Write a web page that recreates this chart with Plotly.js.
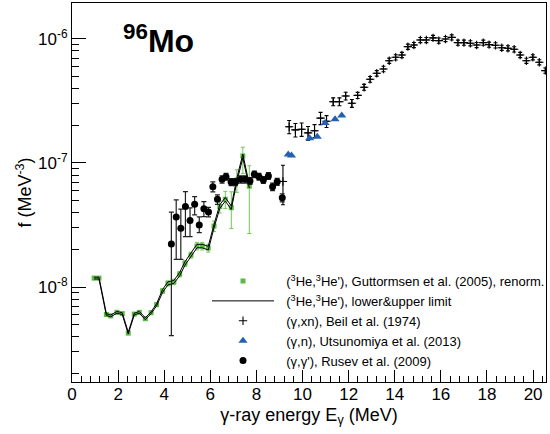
<!DOCTYPE html>
<html>
<head>
<meta charset="utf-8">
<script src="https://cdn.plot.ly/plotly-3.0.1.min.js"></script>
<style>
html,body{margin:0;padding:0;background:#fff;overflow:hidden;}
#chart{width:550px;height:434px;}
</style>
</head>
<body>
<div id="chart"></div>
<script>
// Guttormsen et al. (2005), renorm. (3He,3He')
const energyG = [0.96,1.17,1.49,1.68,1.95,2.18,2.44,2.70,2.92,3.18,3.43,3.67,3.93,4.16,4.42,4.67,4.90,5.16,5.42,5.65,5.91,6.16,6.41,6.65,6.91,7.15,7.41,7.69];
const fG = [1.18e-8,1.18e-8,6.0e-9,5.85e-9,6.25e-9,6.1e-9,4.25e-9,6.05e-9,6.25e-9,5.55e-9,6.2e-9,7.2e-9,9.3e-9,1.07e-8,1.10e-8,1.27e-8,1.55e-8,1.81e-8,2.14e-8,2.14e-8,2.06e-8,3.10e-8,4.45e-8,5.1e-8,4.36e-8,7.3e-8,1.14e-7,6.5e-8];
const fGErrPlus = [3.5e-10,3.5e-10,1.8e-10,1.8e-10,1.9e-10,1.8e-10,1.3e-10,1.8e-10,1.9e-10,1.7e-10,1.9e-10,2.5e-10,4.0e-10,5.0e-10,5.5e-10,6.5e-10,8.5e-10,1.0e-9,1.5e-9,1.5e-9,1.5e-9,3.0e-9,5.0e-9,8.0e-9,1.5e-8,1.5e-8,2.0e-8,3.0e-8];
const fGErrMinus = [3.5e-10,3.5e-10,1.8e-10,1.8e-10,1.9e-10,1.8e-10,1.3e-10,1.8e-10,1.9e-10,1.7e-10,1.9e-10,2.5e-10,4.0e-10,5.0e-10,5.5e-10,6.5e-10,8.5e-10,1.0e-9,1.5e-9,1.5e-9,1.5e-9,3.0e-9,5.0e-9,8.0e-9,1.4e-8,1.5e-8,3.2e-8,3.8e-8];
// lower & upper limit
const fLower = [1.16e-8,1.16e-8,5.9e-9,5.75e-9,6.15e-9,6.0e-9,4.18e-9,5.95e-9,6.15e-9,5.45e-9,6.1e-9,7.05e-9,9.05e-9,1.04e-8,1.07e-8,1.23e-8,1.50e-8,1.75e-8,2.07e-8,2.07e-8,1.99e-8,3.0e-8,4.3e-8,4.93e-8,4.22e-8,7.06e-8,1.10e-7,6.28e-8];
const fUpper = [1.20e-8,1.20e-8,6.1e-9,5.95e-9,6.35e-9,6.2e-9,4.32e-9,6.15e-9,6.35e-9,5.65e-9,6.3e-9,7.35e-9,9.55e-9,1.10e-8,1.13e-8,1.31e-8,1.60e-8,1.87e-8,2.21e-8,2.21e-8,2.13e-8,3.2e-8,4.6e-8,5.27e-8,4.5e-8,7.54e-8,1.18e-7,6.72e-8];
// Beil et al. (1974) (gamma,xn)
const energyB = [9.15,9.42,9.69,9.96,10.24,10.52,10.78,11.04,11.33,11.60,11.87,12.14,12.39,12.67,12.93,13.22,13.51,13.76,14.04,14.31,14.57,14.83,15.11,15.37,15.66,15.91,16.20,16.47,16.74,17.00,17.28,17.55,17.84,18.09,18.37,18.64,18.91,19.18,19.44,19.71,19.99,20.27,20.53];
const fB = [7.1e-8,1.96e-7,1.85e-7,1.87e-7,1.75e-7,1.82e-7,2.3e-7,2.17e-7,3.12e-7,3.12e-7,3.47e-7,3.03e-7,3.51e-7,4.08e-7,4.73e-7,5.29e-7,5.73e-7,6.68e-7,7.12e-7,7.43e-7,8.67e-7,8.94e-7,9.82e-7,9.82e-7,1.02e-6,9.7e-7,1.0e-6,1.03e-6,9.34e-7,9.34e-7,9.23e-7,8.94e-7,9.34e-7,9.0e-7,8.89e-7,8.5e-7,8.41e-7,8.26e-7,7.43e-7,6.68e-7,7.12e-7,6.49e-7,5.56e-7];
const fBErr = [2.5e-8,2.4e-8,2.3e-8,2.3e-8,2.2e-8,2.2e-8,2.6e-8,2.4e-8,2.3e-8,2.3e-8,2.5e-8,2.2e-8,2.0e-8,2.2e-8,2.5e-8,2.7e-8,2.9e-8,3.3e-8,3.5e-8,3.6e-8,4.2e-8,4.3e-8,4.7e-8,4.7e-8,4.9e-8,4.7e-8,4.8e-8,4.9e-8,4.5e-8,4.5e-8,4.4e-8,4.3e-8,4.5e-8,4.3e-8,4.3e-8,4.1e-8,4.0e-8,4.0e-8,3.6e-8,3.2e-8,3.4e-8,3.1e-8,2.7e-8];
const energyBErr = 0.13;
// Utsunomiya et al. (2013) (gamma,n)
const energyU = [9.38,9.52,10.31,10.64,10.98,11.41,11.70];
const fU = [1.17e-7,1.15e-7,1.58e-7,1.63e-7,2.1e-7,2.25e-7,2.41e-7];
// Rusev et al. (2009) (gamma,gamma')
const energyR = [4.31,4.52,4.72,4.92,5.12,5.32,5.52,5.72,5.92,6.11,6.31,6.51,6.68,6.90,7.09,7.32,7.51,7.72,7.91,8.11,8.30,8.52,8.70,8.90,9.12];
const fR = [2.22e-8,3.67e-8,2.97e-8,4.45e-8,3.43e-8,4.65e-8,3.16e-8,4.28e-8,4.03e-8,6.44e-8,5.09e-8,7.39e-8,7.76e-8,7.03e-8,7.03e-8,7.39e-8,7.39e-8,7.16e-8,8.11e-8,7.76e-8,7.30e-8,7.86e-8,6.44e-8,7.06e-8,5.25e-8];
const fRErrPlus = [1.8e-8,1.37e-8,1.27e-8,1.43e-8,0.91e-8,0.7e-8,0.51e-8,0.6e-8,0.35e-8,0.6e-8,0.45e-8,0.5e-8,0.5e-8,0.45e-8,0.45e-8,0.5e-8,0.5e-8,0.45e-8,0.5e-8,0.5e-8,0.45e-8,0.5e-8,0.45e-8,0.45e-8,0.4e-8];
const fRErrMinus = [1.815e-8,2.0e-8,1.3e-8,1.9e-8,0.88e-8,0.84e-8,0.42e-8,0.59e-8,0.35e-8,0.6e-8,0.45e-8,0.5e-8,0.5e-8,0.45e-8,0.45e-8,0.5e-8,0.5e-8,0.45e-8,0.5e-8,0.5e-8,0.45e-8,0.5e-8,0.45e-8,0.45e-8,0.4e-8];

const yTickVals = [1e-8,1e-7,1e-6];
const yTickText = ['10<sup>-8</sup>','10<sup>-7</sup>','10<sup>-6</sup>'];

const FONT = 'Liberation Sans, Arial, Helvetica, sans-serif';
const green = '#5cb946';
const LEAD = '\u00a0\u00a0';

const traces = [
  {
    x: energyG, y: fG, type: 'scatter', mode: 'markers',
    name: LEAD + '(<sup>3</sup>He,<sup>3</sup>He\'), Guttormsen et al. (2005), renorm.',
    marker: {symbol: 'square', size: 5, color: green},
    error_y: {type: 'data', array: fGErrPlus, arrayminus: fGErrMinus, color: '#74c65a', thickness: 1, width: 2}
  },
  {
    x: energyG, y: fLower, type: 'scatter', mode: 'lines',
    name: LEAD + '(<sup>3</sup>He,<sup>3</sup>He\'), lower&upper limit',
    legendgroup: 'lim',
    line: {color: '#000', width: 1}
  },
  {
    x: energyG, y: fUpper, type: 'scatter', mode: 'lines',
    name: 'upper', legendgroup: 'lim', showlegend: false,
    line: {color: '#000', width: 1}
  },
  {
    x: energyB, y: fB, type: 'scatter', mode: 'markers',
    name: LEAD + '(γ,xn), Beil et al. (1974)',
    marker: {symbol: 'cross-thin', size: 6, color: '#000', line: {color: '#000', width: 1.1}},
    error_y: {type: 'data', array: fBErr, color: '#000', thickness: 1.1, width: 2},
    error_x: {type: 'constant', value: energyBErr, color: '#000', thickness: 1.1, width: 0}
  },
  {
    x: energyU, y: fU, type: 'scatter', mode: 'markers',
    name: LEAD + '(γ,n), Utsunomiya et al. (2013)',
    marker: {symbol: 'triangle-up', size: 8, color: '#2360b0'}
  },
  {
    x: energyR, y: fR, type: 'scatter', mode: 'markers',
    name: LEAD + '(γ,γ\'), Rusev et al. (2009)',
    marker: {symbol: 'circle', size: 7, color: '#000'},
    error_y: {type: 'data', array: fRErrPlus, arrayminus: fRErrMinus, color: '#222', thickness: 1.2, width: 2.5}
  }
];

const layout = {
  width: 550, height: 434,
  margin: {l: 72, r: 0, t: 3, b: 52},
  paper_bgcolor: '#fff', plot_bgcolor: '#fff',
  font: {family: FONT, size: 17, color: '#000'},
  showlegend: true,
  legend: {
    x: 0.285, y: 0.306, xanchor: 'left', yanchor: 'top',
    bgcolor: 'rgba(0,0,0,0)', font: {family: FONT, size: 13, color: '#000'},
    itemwidth: 62, tracegroupgap: 0
  },
  xaxis: {
    range: [0, 20.56], tick0: 0, dtick: 2,
    ticks: 'inside', ticklen: 12, tickwidth: 1, tickcolor: '#000',
    minor: {dtick: 0.4, tick0: 0, ticks: 'inside', ticklen: 6, tickwidth: 1, tickcolor: '#000'},
    showline: true, linecolor: '#000', linewidth: 1, mirror: true,
    showgrid: false, zeroline: false,
    ticklabelstandoff: -3,
    tickfont: {family: FONT, size: 17},
    title: {text: 'γ-ray energy E<sub>γ</sub> (MeV)', font: {family: FONT, size: 18}, standoff: 4}
  },
  yaxis: {
    type: 'log', range: [-8.766, -5.71],
    tickvals: yTickVals, ticktext: yTickText,
    ticks: 'inside', ticklen: 14, tickwidth: 1, tickcolor: '#000',
    minor: {dtick: 'D1', ticks: 'inside', ticklen: 7, tickwidth: 1, tickcolor: '#000'},
    showline: true, linecolor: '#000', linewidth: 1, mirror: true,
    showgrid: false, zeroline: false,
    tickfont: {family: FONT, size: 17},
    title: {text: 'f (MeV<sup>-3</sup>)', font: {family: FONT, size: 18}, standoff: 1}
  },
  annotations: [{
    xref: 'paper', yref: 'paper', x: 0.104, y: 0.905, xanchor: 'left', yanchor: 'middle',
    text: '<b><sup>96</sup>Mo</b>', showarrow: false,
    font: {family: FONT, size: 32, color: '#000'}
  }]
};

Plotly.newPlot('chart', traces, layout, {displayModeBar: false, staticPlot: true});
</script>
</body>
</html>
